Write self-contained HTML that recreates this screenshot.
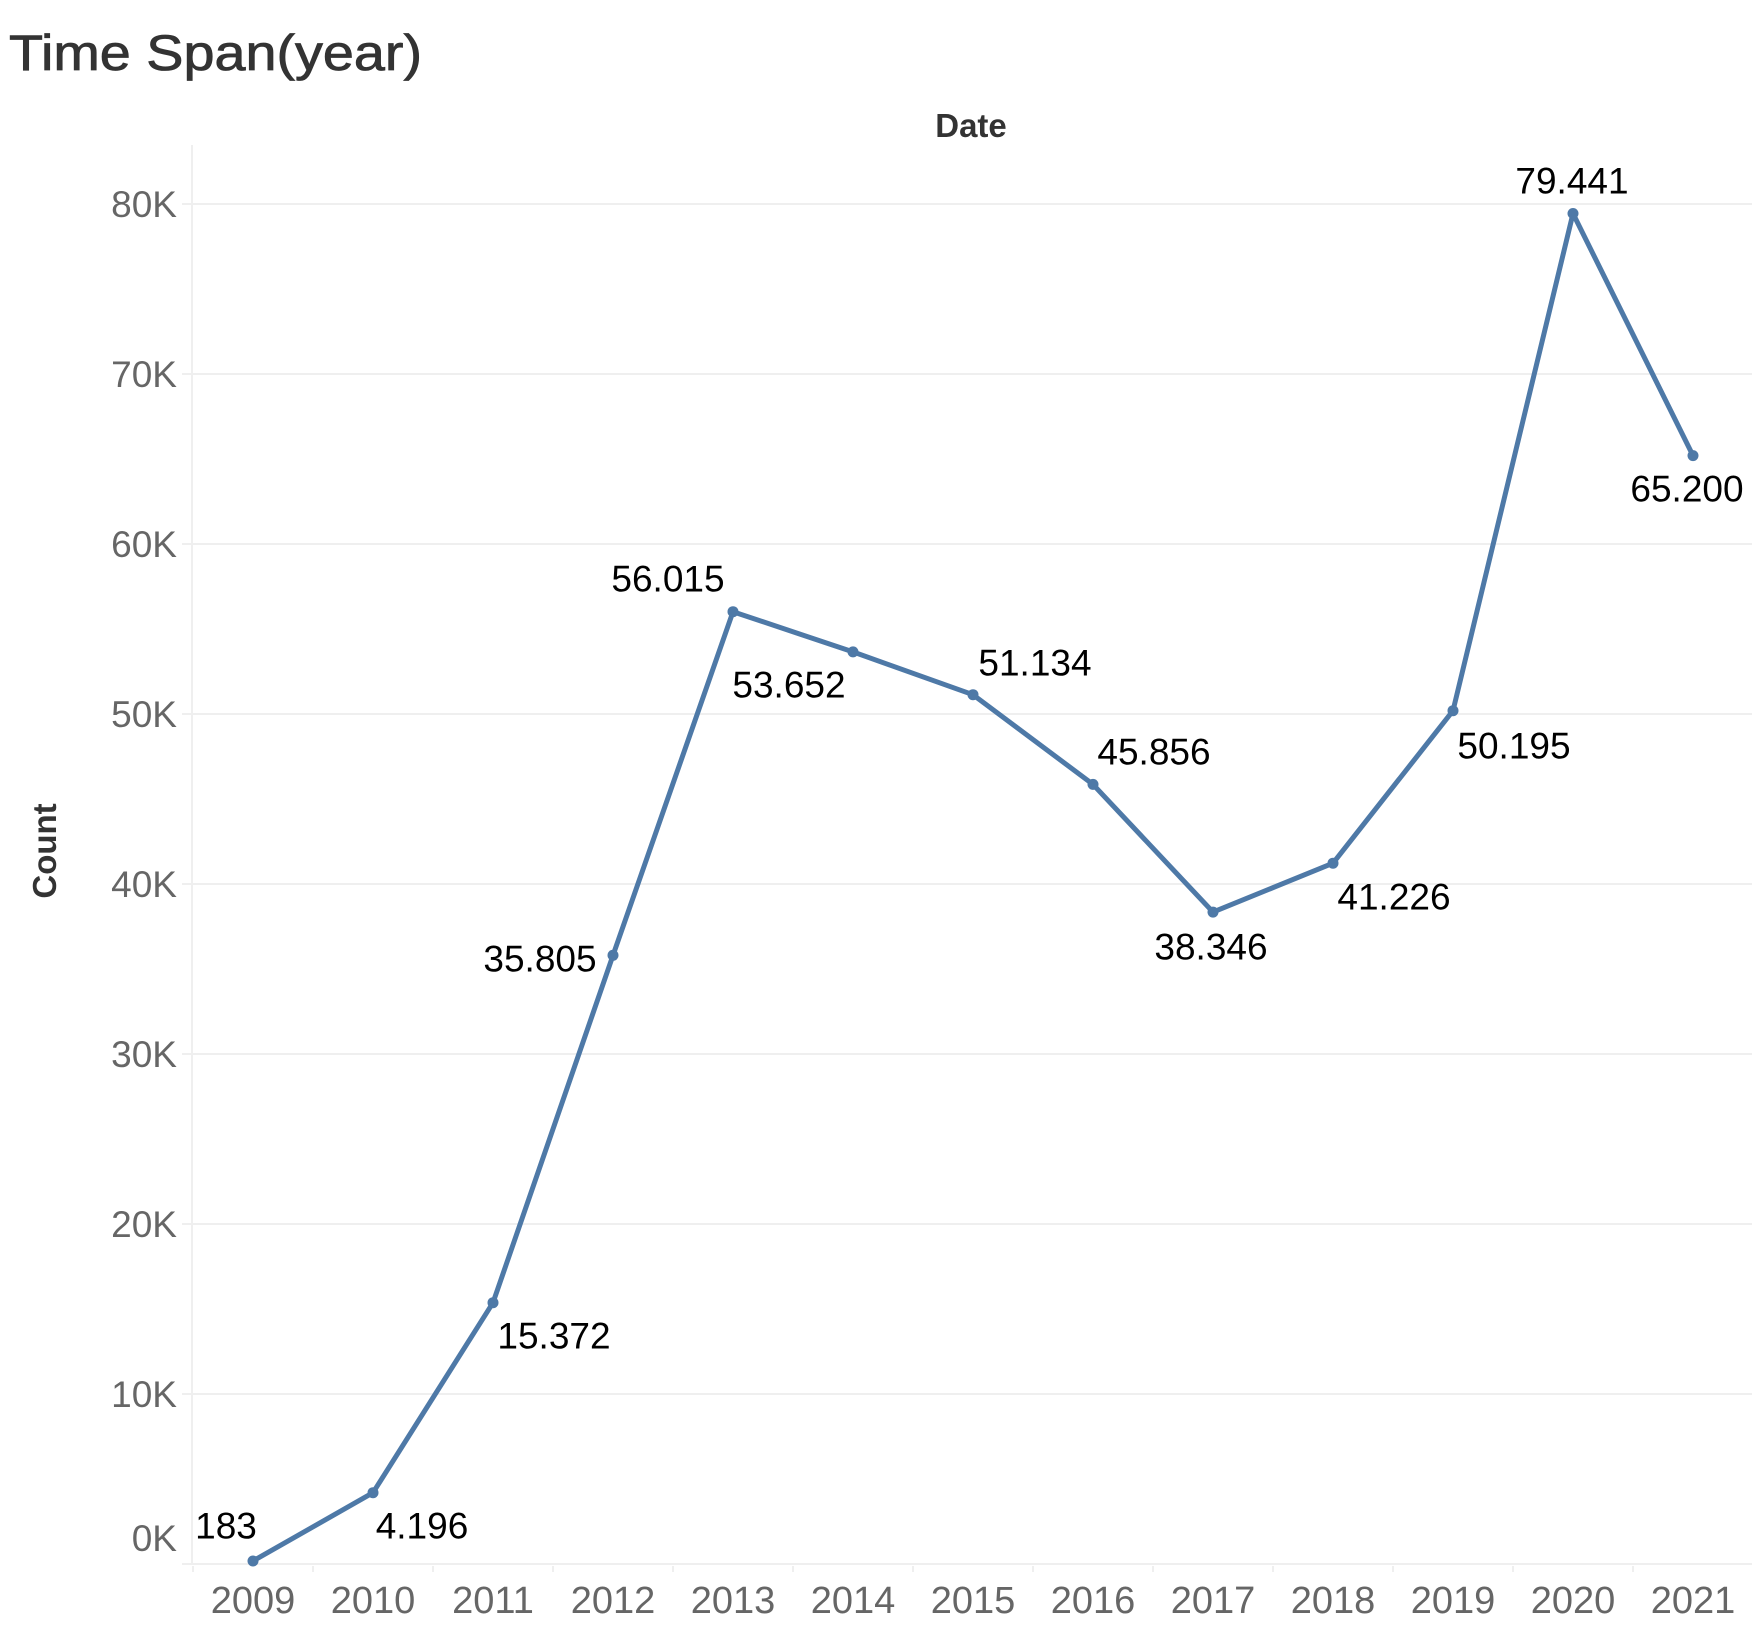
<!DOCTYPE html>
<html><head><meta charset="utf-8"><style>html,body{margin:0;padding:0;background:#fff}svg{display:block}</style></head>
<body>
<svg width="1752" height="1628" viewBox="0 0 1752 1628" xmlns="http://www.w3.org/2000/svg" font-family="Liberation Sans, DejaVu Sans, sans-serif">
<text x="9" y="70" font-size="50" fill="#333" stroke="#333" stroke-width="0.8" textLength="413" lengthAdjust="spacingAndGlyphs">Time Span(year)</text>
<text x="971" y="137" font-size="33" font-weight="bold" fill="#333" text-anchor="middle">Date</text>
<text transform="translate(56,851) rotate(-90)" font-size="33" font-weight="bold" fill="#333" text-anchor="middle">Count</text>
<g stroke="#efefef" stroke-width="2">
<line x1="192" x2="1752" y1="1564" y2="1564"/><line x1="192" x2="1752" y1="1394" y2="1394"/><line x1="192" x2="1752" y1="1224" y2="1224"/><line x1="192" x2="1752" y1="1054" y2="1054"/><line x1="192" x2="1752" y1="884" y2="884"/><line x1="192" x2="1752" y1="714" y2="714"/><line x1="192" x2="1752" y1="544" y2="544"/><line x1="192" x2="1752" y1="374" y2="374"/><line x1="192" x2="1752" y1="204" y2="204"/>
<line x1="192" x2="192" y1="145" y2="1564"/>
<line x1="182" x2="192" y1="1564" y2="1564"/><line x1="182" x2="192" y1="1394" y2="1394"/><line x1="182" x2="192" y1="1224" y2="1224"/><line x1="182" x2="192" y1="1054" y2="1054"/><line x1="182" x2="192" y1="884" y2="884"/><line x1="182" x2="192" y1="714" y2="714"/><line x1="182" x2="192" y1="544" y2="544"/><line x1="182" x2="192" y1="374" y2="374"/><line x1="182" x2="192" y1="204" y2="204"/>
<line x1="193" x2="193" y1="1566" y2="1572"/><line x1="313" x2="313" y1="1566" y2="1572"/><line x1="433" x2="433" y1="1566" y2="1572"/><line x1="553" x2="553" y1="1566" y2="1572"/><line x1="673" x2="673" y1="1566" y2="1572"/><line x1="793" x2="793" y1="1566" y2="1572"/><line x1="913" x2="913" y1="1566" y2="1572"/><line x1="1033" x2="1033" y1="1566" y2="1572"/><line x1="1153" x2="1153" y1="1566" y2="1572"/><line x1="1273" x2="1273" y1="1566" y2="1572"/><line x1="1393" x2="1393" y1="1566" y2="1572"/><line x1="1513" x2="1513" y1="1566" y2="1572"/><line x1="1633" x2="1633" y1="1566" y2="1572"/>
</g>
<g font-size="37" fill="#666" text-anchor="end">
<text x="177" y="1551">0K</text><text x="177" y="1407">10K</text><text x="177" y="1237">20K</text><text x="177" y="1067">30K</text><text x="177" y="897">40K</text><text x="177" y="727">50K</text><text x="177" y="557">60K</text><text x="177" y="387">70K</text><text x="177" y="217">80K</text>
</g>
<g font-size="38" fill="#666" text-anchor="middle">
<text x="253" y="1613">2009</text><text x="373" y="1613">2010</text><text x="493" y="1613">2011</text><text x="613" y="1613">2012</text><text x="733" y="1613">2013</text><text x="853" y="1613">2014</text><text x="973" y="1613">2015</text><text x="1093" y="1613">2016</text><text x="1213" y="1613">2017</text><text x="1333" y="1613">2018</text><text x="1453" y="1613">2019</text><text x="1573" y="1613">2020</text><text x="1693" y="1613">2021</text>
</g>
<polyline fill="none" stroke="#4e79a7" stroke-width="5" stroke-linejoin="round" points="253,1561 373,1492.7 493,1302.7 613,955.3 733,611.7 853,651.9 973,694.7 1093,784.4 1213,912.1 1333,863.2 1453,710.7 1573,213.5 1693,455.6"/>
<g fill="#4e79a7">
<circle cx="253" cy="1561" r="5.5"/><circle cx="373" cy="1492.7" r="5.5"/><circle cx="493" cy="1302.7" r="5.5"/><circle cx="613" cy="955.3" r="5.5"/><circle cx="733" cy="611.7" r="5.5"/><circle cx="853" cy="651.9" r="5.5"/><circle cx="973" cy="694.7" r="5.5"/><circle cx="1093" cy="784.4" r="5.5"/><circle cx="1213" cy="912.1" r="5.5"/><circle cx="1333" cy="863.2" r="5.5"/><circle cx="1453" cy="710.7" r="5.5"/><circle cx="1573" cy="213.5" r="5.5"/><circle cx="1693" cy="455.6" r="5.5"/>
</g>
<g font-size="37" fill="#000" text-anchor="middle" dominant-baseline="central">
<text x="226" y="1526">183</text><text x="422" y="1526">4.196</text><text x="554" y="1336">15.372</text><text x="540" y="959">35.805</text><text x="668" y="579">56.015</text><text x="789" y="685">53.652</text><text x="1035" y="663">51.134</text><text x="1154" y="752">45.856</text><text x="1211" y="947">38.346</text><text x="1394" y="897">41.226</text><text x="1514" y="746">50.195</text><text x="1572" y="181">79.441</text><text x="1687" y="489">65.200</text>
</g>
</svg>
</body></html>
